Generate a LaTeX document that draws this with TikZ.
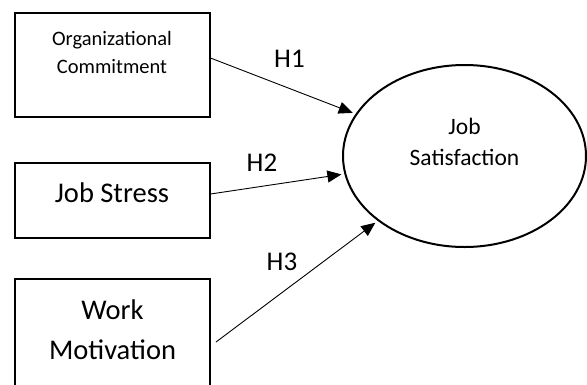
\documentclass[tikz,border=0pt]{standalone}
\usepackage{fontspec}
\setmainfont{Carlito}
\usetikzlibrary{shapes,arrows.meta}

\begin{document}
\begin{tikzpicture}[
    x=1pt, y=-1pt,
    var/.style={rectangle, draw, line width=2pt, inner sep=0pt, minimum width=195pt},
    latent/.style={ellipse, draw, line width=2pt, inner sep=0pt, minimum width=243pt, minimum height=182pt},
    link/.style={-{Triangle[length=14pt,width=12pt]}, line width=0.9pt, shorten >=3pt},
    hyp/.style={font=\fontsize{27}{32}\selectfont}
]
\useasboundingbox (0,0) rectangle (587,384);
\clip (0,0) rectangle (587,384);

% Independent variables
\node[var, minimum height=104pt] (org) at (112,64.5) {};
\node[font=\fontsize{20.5}{28}\selectfont, align=center] (orgtext) at (112,52) {Organizational\\Commitment};

\node[var, minimum height=75pt] (stress) at (112,200) {};
\node[font=\fontsize{28.5}{34}\selectfont] (stresstext) at (112,193) {Job Stress};

\node[var, minimum height=113pt] (motiv) at (112.5,335.5) {};
\node[font=\fontsize{28.5}{40}\selectfont, align=center] (motivtext) at (112.5,330) {Work\\Motivation};

% Dependent variable
\node[latent] (sat) at (464.5,156) {};
\node[font=\fontsize{23.5}{31}\selectfont, align=center] (sattext) at (464.5,142) {Job\\Satisfaction};

% Hypotheses
\draw[link] ([yshift=6.5pt]org.east) -- (sat);
\draw[link] ([yshift=6pt]stress.east) -- (sat);
\draw[link] ([shift={(5pt,-6.5pt)}]motiv.east) -- (sat);

\node[hyp] (h1) at (289.5,58.5) {H1};
\node[hyp] (h2) at (262,163) {H2};
\node[hyp] (h3) at (282,262) {H3};

\end{tikzpicture}
\end{document}
